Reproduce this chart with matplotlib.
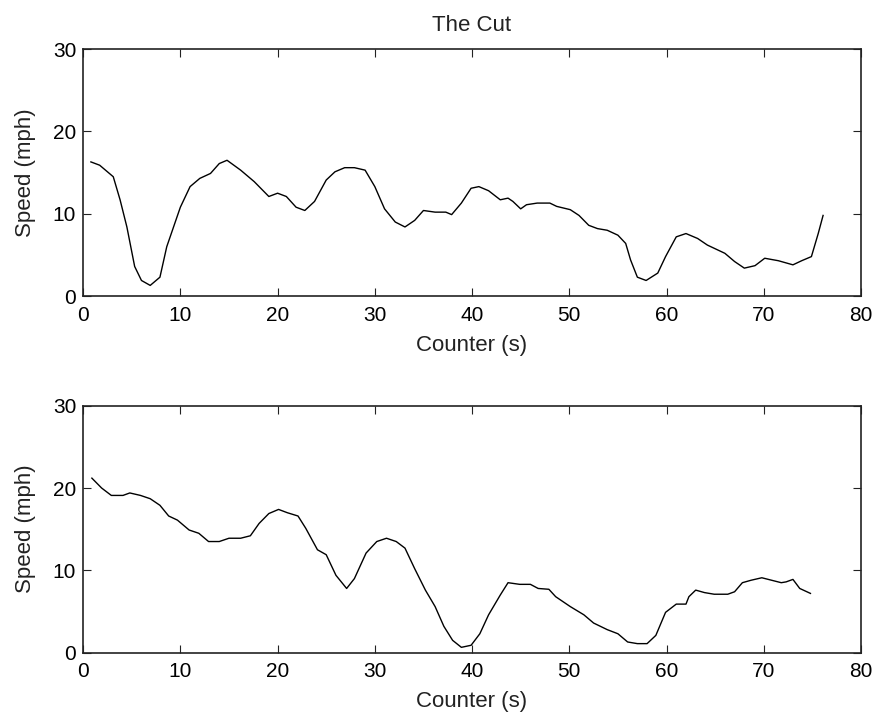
import matplotlib
matplotlib.use('Agg')
import matplotlib.pyplot as plt

plt.rcParams['font.family'] = ['Liberation Sans', 'DejaVu Sans']

# top run: "The Cut"
t1 = [0.8, 1.7, 3.1, 3.8, 4.5, 5.3, 6.0, 6.9, 7.9, 8.6, 10.0, 11.0, 12.0, 13.1,
      14.0, 14.8, 16.2, 17.6, 19.1, 20.0, 20.9, 21.9, 22.8, 23.8, 25.0, 25.9,
      26.9, 27.9, 29.0, 30.0, 31.0, 32.1, 33.1, 34.1, 35.0, 36.2, 37.3, 37.9,
      38.9, 39.9, 40.7, 41.7, 42.9, 43.7, 44.2, 45.0, 45.6, 46.7, 48.0, 48.7,
      50.1, 51.0, 52.0, 52.9, 53.9, 55.0, 55.8, 56.3, 57.0, 57.9, 59.1, 59.9,
      61.0, 62.0, 63.2, 64.2, 66.0, 67.0, 68.0, 69.1, 70.1, 71.5, 73.0, 73.9,
      74.9, 75.6, 76.1]
v1 = [16.3, 15.9, 14.5, 11.7, 8.4, 3.6, 1.9, 1.3, 2.3, 6.0, 10.8, 13.3, 14.3, 14.9,
      16.1, 16.5, 15.3, 13.9, 12.1, 12.5, 12.1, 10.8, 10.4, 11.5, 14.1, 15.1,
      15.6, 15.6, 15.3, 13.3, 10.6, 9.0, 8.4, 9.2, 10.4, 10.2, 10.2, 9.9,
      11.3, 13.1, 13.3, 12.8, 11.7, 11.9, 11.5, 10.6, 11.1, 11.3, 11.3, 10.9,
      10.5, 9.8, 8.6, 8.2, 8.0, 7.4, 6.4, 4.4, 2.3, 1.9, 2.8, 4.8,
      7.2, 7.6, 7.0, 6.2, 5.2, 4.2, 3.4, 3.7, 4.6, 4.3, 3.8, 4.3,
      4.8, 7.6, 9.8]

# bottom run
t2 = [0.9, 1.9, 2.9, 4.1, 4.8, 5.9, 6.9, 7.9, 8.8, 9.7, 10.9, 11.9, 12.9, 14.0,
      15.0, 16.2, 17.2, 18.1, 19.1, 20.1, 21.0, 22.1, 22.9, 24.1, 25.0, 26.0,
      27.1, 27.9, 29.1, 30.2, 31.2, 32.2, 33.1, 34.1, 35.2, 36.2, 37.1, 38.0,
      38.9, 39.9, 40.8, 41.7, 42.9, 43.7, 44.9, 46.0, 46.8, 47.9, 48.6, 50.1,
      51.5, 52.5, 53.9, 55.0, 56.0, 57.0, 58.0, 58.9, 59.9, 61.0, 62.0, 62.3,
      63.0, 63.9, 64.9, 66.3, 67.0, 67.8, 68.7, 69.8, 70.8, 71.8, 72.3, 73.0,
      73.7, 74.8]
v2 = [21.2, 20.0, 19.1, 19.1, 19.4, 19.1, 18.7, 17.9, 16.6, 16.1, 14.9, 14.5, 13.5, 13.5,
      13.9, 13.9, 14.2, 15.7, 16.9, 17.4, 17.0, 16.6, 15.1, 12.5, 11.9, 9.4,
      7.8, 9.0, 12.1, 13.5, 13.9, 13.5, 12.7, 10.2, 7.6, 5.6, 3.2, 1.5,
      0.65, 0.9, 2.3, 4.6, 7.0, 8.5, 8.3, 8.3, 7.8, 7.7, 6.8, 5.6,
      4.6, 3.6, 2.8, 2.3, 1.3, 1.1, 1.1, 2.1, 4.9, 5.9, 5.9, 6.8,
      7.6, 7.3, 7.1, 7.1, 7.4, 8.5, 8.8, 9.1, 8.8, 8.5, 8.6, 8.9,
      7.8, 7.2]

fig = plt.figure(figsize=(8.75, 7.17), dpi=100)
ax1 = fig.add_axes([0.095, 0.587, 0.889, 0.3445])
ax2 = fig.add_axes([0.095, 0.0897, 0.889, 0.3445])

for ax, t, v in [(ax1, t1, v1), (ax2, t2, v2)]:
    ax.plot(t, v, color='black', linewidth=1.0)
    ax.set_xlim(0, 80)
    ax.set_ylim(0, 30)
    ax.set_xticks(range(0, 81, 10))
    ax.set_yticks([0, 10, 20, 30])
    ax.tick_params(direction='in', top=True, right=True, length=6,
                   labelsize=15, color='#222222')
    ax.tick_params(axis='x', pad=7)
    ax.tick_params(axis='y', pad=5)
    ax.set_xlabel('Counter (s)', fontsize=16, labelpad=7, color='#222222')
    ax.set_ylabel('Speed (mph)', fontsize=16, labelpad=12, color='#222222')
    for s in ax.spines.values():
        s.set_linewidth(1.2)
        s.set_color('#222222')

ax1.set_title('The Cut', fontsize=16, pad=13, color='#222222')

fig.savefig('out.png', dpi=100)
